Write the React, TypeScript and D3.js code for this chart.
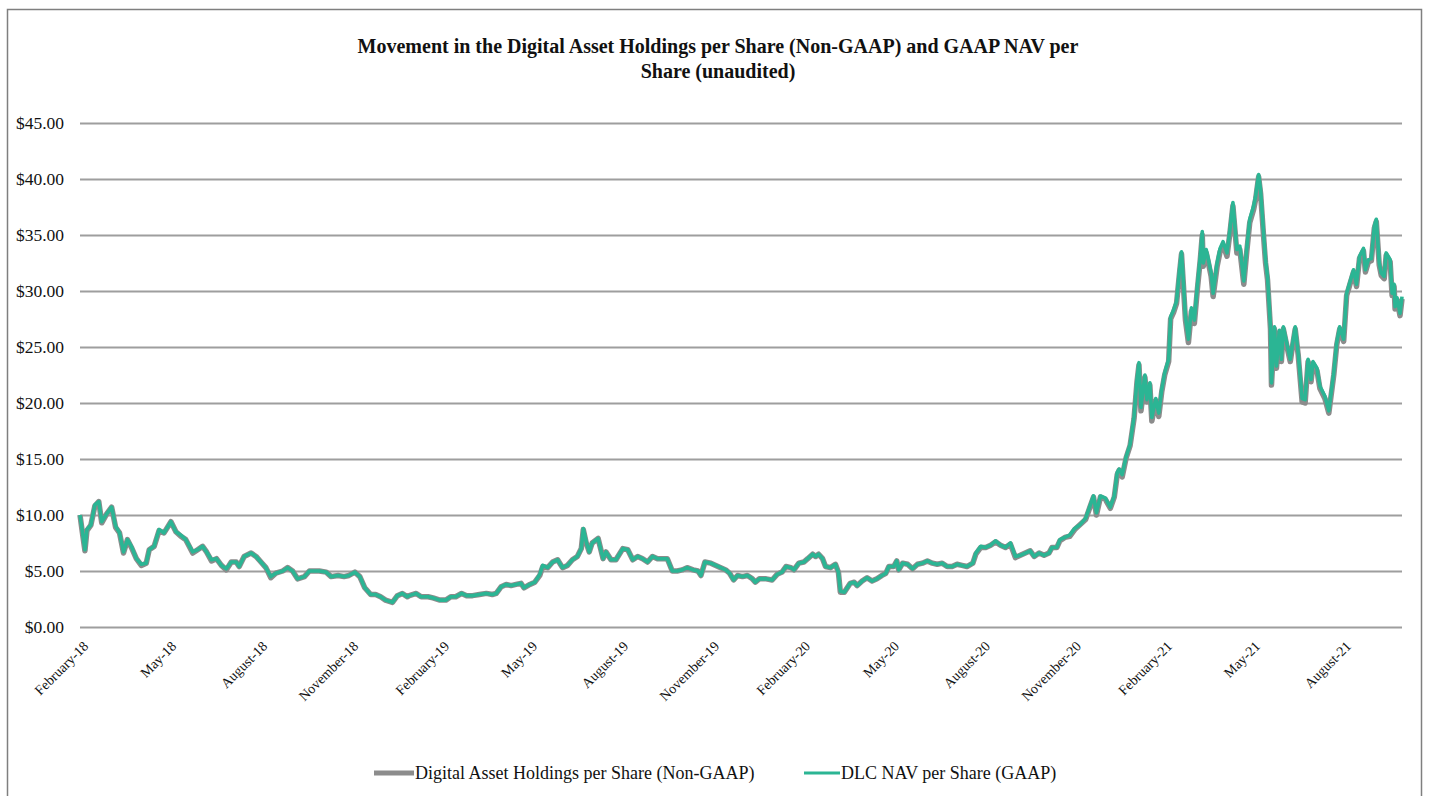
import React, { useEffect, useRef } from "react";
import * as d3 from "d3";

const titleLines = [
  "Movement in the Digital Asset Holdings per Share (Non-GAAP) and GAAP NAV per",
  "Share (unaudited)",
];
const seriesNames = ["Digital Asset Holdings per Share (Non-GAAP)", "DLC NAV per Share (GAAP)"];
const yTicks = [0, 5, 10, 15, 20, 25, 30, 35, 40, 45];
const xTickDates = [
  "2018-02-01", "2018-05-01", "2018-08-01", "2018-11-01",
  "2019-02-01", "2019-05-01", "2019-08-01", "2019-11-01",
  "2020-02-01", "2020-05-01", "2020-08-01", "2020-11-01",
  "2021-02-01", "2021-05-01", "2021-08-01",
];

// [date, DLC NAV per share (GAAP), digital asset holdings per share (non-GAAP)]
const rows2018: [string, number, number][] = [
  ["2018-02-01", 10.0, 10.0], ["2018-02-03", 8.8, 8.7], ["2018-02-06", 6.9, 6.8], ["2018-02-08", 8.7, 8.6],
  ["2018-02-12", 9.1, 9.1], ["2018-02-16", 10.9, 10.8], ["2018-02-20", 11.2, 11.2], ["2018-02-23", 9.4, 9.3],
  ["2018-02-28", 10.1, 10.1], ["2018-03-05", 10.7, 10.7], ["2018-03-09", 9.0, 8.9], ["2018-03-13", 8.4, 8.4],
  ["2018-03-17", 6.7, 6.6], ["2018-03-21", 7.8, 7.8], ["2018-03-25", 7.2, 7.1], ["2018-03-30", 6.1, 6.1],
  ["2018-04-04", 5.6, 5.5], ["2018-04-09", 5.7, 5.7], ["2018-04-12", 6.9, 6.9], ["2018-04-17", 7.2, 7.2],
  ["2018-04-22", 8.7, 8.6], ["2018-04-27", 8.4, 8.4], ["2018-05-04", 9.4, 9.4], ["2018-05-09", 8.5, 8.5],
  ["2018-05-14", 8.2, 8.1], ["2018-05-19", 7.8, 7.8], ["2018-05-26", 6.7, 6.6], ["2018-05-31", 6.9, 6.9],
  ["2018-06-05", 7.2, 7.2], ["2018-06-09", 6.7, 6.7], ["2018-06-14", 6.0, 5.9], ["2018-06-19", 6.1, 6.1],
  ["2018-06-24", 5.5, 5.5], ["2018-06-29", 5.2, 5.1], ["2018-07-04", 5.8, 5.8], ["2018-07-09", 5.8, 5.8],
  ["2018-07-12", 5.4, 5.4], ["2018-07-17", 6.3, 6.3], ["2018-07-24", 6.6, 6.6], ["2018-07-29", 6.3, 6.3],
  ["2018-08-03", 5.8, 5.8], ["2018-08-08", 5.3, 5.3], ["2018-08-13", 4.5, 4.4], ["2018-08-18", 4.8, 4.8],
  ["2018-08-25", 5.0, 5.0], ["2018-08-30", 5.3, 5.3], ["2018-09-04", 5.0, 5.0], ["2018-09-09", 4.3, 4.3],
  ["2018-09-16", 4.5, 4.5], ["2018-09-21", 5.0, 5.0], ["2018-09-26", 5.0, 5.0], ["2018-10-01", 5.0, 5.0],
  ["2018-10-08", 4.9, 4.9], ["2018-10-13", 4.5, 4.5], ["2018-10-20", 4.6, 4.6], ["2018-10-26", 4.5, 4.5],
  ["2018-10-31", 4.6, 4.6], ["2018-11-06", 4.9, 4.9], ["2018-11-11", 4.5, 4.5], ["2018-11-16", 3.5, 3.5],
  ["2018-11-22", 2.9, 2.9], ["2018-11-27", 2.9, 2.9], ["2018-12-02", 2.7, 2.7], ["2018-12-07", 2.4, 2.4],
  ["2018-12-14", 2.2, 2.2], ["2018-12-19", 2.8, 2.8], ["2018-12-24", 3.0, 3.0], ["2018-12-29", 2.7, 2.7],
  ["2018-12-31", 2.8, 2.8],
];

const rows2019: [string, number, number][] = [
  ["2019-01-07", 3.0, 3.0], ["2019-01-12", 2.7, 2.7], ["2019-01-19", 2.7, 2.7], ["2019-01-24", 2.6, 2.6],
  ["2019-01-31", 2.4, 2.4], ["2019-02-06", 2.4, 2.4], ["2019-02-11", 2.7, 2.7], ["2019-02-16", 2.7, 2.7],
  ["2019-02-22", 3.0, 3.0], ["2019-02-27", 2.8, 2.8], ["2019-03-05", 2.8, 2.8], ["2019-03-12", 2.9, 2.9],
  ["2019-03-19", 3.0, 3.0], ["2019-03-25", 2.9, 2.9], ["2019-03-29", 3.0, 3.0], ["2019-04-03", 3.6, 3.6],
  ["2019-04-08", 3.8, 3.8], ["2019-04-13", 3.7, 3.7], ["2019-04-18", 3.8, 3.8], ["2019-04-23", 3.9, 3.9],
  ["2019-04-26", 3.5, 3.5], ["2019-05-02", 3.8, 3.8], ["2019-05-07", 4.0, 4.0], ["2019-05-12", 4.7, 4.6],
  ["2019-05-15", 5.5, 5.4], ["2019-05-20", 5.3, 5.3], ["2019-05-25", 5.8, 5.8], ["2019-05-30", 6.0, 6.0],
  ["2019-06-04", 5.3, 5.3], ["2019-06-09", 5.5, 5.5], ["2019-06-14", 6.0, 6.0], ["2019-06-19", 6.3, 6.3],
  ["2019-06-23", 7.0, 7.0], ["2019-06-25", 8.8, 8.7], ["2019-06-28", 7.6, 7.5], ["2019-07-01", 6.7, 6.7],
  ["2019-07-04", 7.5, 7.5], ["2019-07-10", 7.9, 7.9], ["2019-07-15", 6.1, 6.1], ["2019-07-18", 6.7, 6.7],
  ["2019-07-23", 6.0, 6.0], ["2019-07-28", 6.0, 6.0], ["2019-08-04", 7.0, 7.0], ["2019-08-09", 6.9, 6.9],
  ["2019-08-14", 6.0, 6.0], ["2019-08-19", 6.3, 6.3], ["2019-08-24", 6.1, 6.1], ["2019-08-29", 5.8, 5.8],
  ["2019-09-03", 6.3, 6.3], ["2019-09-08", 6.1, 6.1], ["2019-09-13", 6.1, 6.1], ["2019-09-18", 6.1, 6.1],
  ["2019-09-23", 5.0, 5.0], ["2019-09-28", 5.0, 5.0], ["2019-10-03", 5.1, 5.1], ["2019-10-08", 5.3, 5.3],
  ["2019-10-14", 5.1, 5.1], ["2019-10-19", 5.0, 5.0], ["2019-10-22", 4.6, 4.6], ["2019-10-26", 5.8, 5.8],
  ["2019-11-01", 5.7, 5.7], ["2019-11-06", 5.5, 5.5], ["2019-11-11", 5.3, 5.3], ["2019-11-16", 5.1, 5.1],
  ["2019-11-20", 4.8, 4.8], ["2019-11-24", 4.2, 4.2], ["2019-11-28", 4.6, 4.6], ["2019-12-03", 4.5, 4.5],
  ["2019-12-08", 4.6, 4.6], ["2019-12-13", 4.3, 4.3], ["2019-12-16", 4.0, 4.0], ["2019-12-20", 4.3, 4.3],
  ["2019-12-27", 4.3, 4.3],
];

const rows2020: [string, number, number][] = [
  ["2020-01-02", 4.2, 4.2], ["2020-01-07", 4.7, 4.7], ["2020-01-12", 4.9, 4.9], ["2020-01-16", 5.4, 5.4],
  ["2020-01-21", 5.3, 5.3], ["2020-01-24", 5.1, 5.1], ["2020-01-29", 5.7, 5.7], ["2020-02-03", 5.8, 5.8],
  ["2020-02-07", 6.1, 6.1], ["2020-02-12", 6.5, 6.5], ["2020-02-15", 6.3, 6.3], ["2020-02-18", 6.5, 6.5],
  ["2020-02-22", 6.1, 6.1], ["2020-02-25", 5.4, 5.4], ["2020-03-01", 5.3, 5.3], ["2020-03-06", 5.6, 5.6],
  ["2020-03-09", 4.9, 4.9], ["2020-03-11", 3.2, 3.1], ["2020-03-15", 3.1, 3.1], ["2020-03-18", 3.5, 3.5],
  ["2020-03-21", 3.9, 3.9], ["2020-03-25", 4.0, 4.0], ["2020-03-28", 3.7, 3.7], ["2020-04-02", 4.1, 4.1],
  ["2020-04-07", 4.4, 4.4], ["2020-04-12", 4.1, 4.1], ["2020-04-17", 4.3, 4.3], ["2020-04-22", 4.6, 4.6],
  ["2020-04-26", 4.8, 4.8], ["2020-04-29", 5.4, 5.4], ["2020-05-04", 5.4, 5.4], ["2020-05-07", 5.9, 5.9],
  ["2020-05-09", 5.1, 5.1], ["2020-05-13", 5.7, 5.7], ["2020-05-18", 5.6, 5.6], ["2020-05-23", 5.2, 5.2],
  ["2020-05-28", 5.6, 5.6], ["2020-06-02", 5.7, 5.7], ["2020-06-07", 5.9, 5.9], ["2020-06-12", 5.7, 5.7],
  ["2020-06-17", 5.6, 5.6], ["2020-06-22", 5.7, 5.7], ["2020-06-27", 5.4, 5.4], ["2020-07-02", 5.4, 5.4],
  ["2020-07-07", 5.6, 5.6], ["2020-07-12", 5.5, 5.5], ["2020-07-17", 5.4, 5.4], ["2020-07-23", 5.7, 5.7],
  ["2020-07-26", 6.6, 6.5], ["2020-07-31", 7.2, 7.1], ["2020-08-05", 7.1, 7.1], ["2020-08-10", 7.3, 7.3],
  ["2020-08-15", 7.7, 7.6], ["2020-08-20", 7.3, 7.3], ["2020-08-25", 7.1, 7.1], ["2020-08-30", 7.5, 7.4],
  ["2020-09-04", 6.3, 6.2], ["2020-09-09", 6.4, 6.4], ["2020-09-14", 6.6, 6.6], ["2020-09-19", 6.8, 6.8],
  ["2020-09-23", 6.3, 6.3], ["2020-09-28", 6.6, 6.6], ["2020-10-03", 6.4, 6.4], ["2020-10-08", 6.6, 6.6],
  ["2020-10-11", 7.1, 7.1], ["2020-10-16", 7.1, 7.1], ["2020-10-19", 7.8, 7.7], ["2020-10-24", 8.0, 8.0],
  ["2020-10-29", 8.2, 8.1], ["2020-11-03", 8.8, 8.7], ["2020-11-08", 9.1, 9.1], ["2020-11-14", 9.7, 9.6],
  ["2020-11-18", 10.7, 10.6], ["2020-11-22", 11.7, 11.6], ["2020-11-25", 10.2, 10.0], ["2020-11-29", 11.7, 11.6],
  ["2020-12-04", 11.5, 11.4], ["2020-12-09", 10.7, 10.6], ["2020-12-13", 11.7, 11.6], ["2020-12-16", 13.8, 13.6],
  ["2020-12-18", 14.1, 14.0], ["2020-12-21", 13.6, 13.4], ["2020-12-25", 15.2, 15.1], ["2020-12-29", 16.3, 16.2],
];

const rows2021: [string, number, number][] = [
  ["2021-01-02", 18.8, 18.6], ["2021-01-05", 22.1, 21.9], ["2021-01-07", 23.6, 23.4], ["2021-01-09", 19.6, 19.3],
  ["2021-01-13", 22.5, 22.3], ["2021-01-15", 20.3, 20.1], ["2021-01-18", 21.8, 21.6], ["2021-01-20", 18.7, 18.4],
  ["2021-01-24", 20.4, 20.2], ["2021-01-27", 19.1, 18.8], ["2021-01-30", 21.2, 21.0], ["2021-02-02", 22.7, 22.5],
  ["2021-02-06", 23.9, 23.7], ["2021-02-08", 27.7, 27.5], ["2021-02-11", 28.3, 28.1], ["2021-02-14", 29.1, 28.9],
  ["2021-02-17", 31.9, 31.6], ["2021-02-19", 33.5, 33.3], ["2021-02-21", 30.7, 30.4], ["2021-02-23", 27.7, 27.4],
  ["2021-02-26", 25.7, 25.4], ["2021-03-01", 28.5, 28.2], ["2021-03-04", 27.4, 27.1], ["2021-03-07", 30.4, 30.1],
  ["2021-03-10", 33.1, 32.8], ["2021-03-12", 35.3, 35.0], ["2021-03-13", 32.5, 32.2], ["2021-03-16", 33.7, 33.4],
  ["2021-03-18", 32.9, 32.6], ["2021-03-21", 31.6, 31.3], ["2021-03-23", 29.8, 29.5], ["2021-03-27", 32.5, 32.2],
  ["2021-03-30", 33.8, 33.5], ["2021-04-02", 34.4, 34.1], ["2021-04-06", 33.4, 33.1], ["2021-04-09", 35.5, 35.2],
  ["2021-04-12", 37.9, 37.6], ["2021-04-16", 33.7, 33.4], ["2021-04-19", 34.0, 33.7], ["2021-04-23", 30.9, 30.6],
  ["2021-04-26", 33.8, 33.5], ["2021-04-29", 36.4, 36.1], ["2021-05-03", 37.6, 37.3], ["2021-05-05", 38.5, 38.2],
  ["2021-05-08", 40.4, 40.2], ["2021-05-10", 39.0, 38.7], ["2021-05-13", 35.2, 34.9], ["2021-05-15", 32.8, 32.5],
  ["2021-05-17", 31.3, 31.0], ["2021-05-20", 26.8, 26.6], ["2021-05-21", 21.8, 21.6], ["2021-05-24", 26.8, 26.6],
  ["2021-05-26", 23.3, 23.1], ["2021-05-29", 26.5, 26.3], ["2021-05-31", 23.9, 23.7], ["2021-06-02", 26.8, 26.6],
  ["2021-06-06", 25.1, 24.9], ["2021-06-09", 23.9, 23.7], ["2021-06-11", 25.1, 24.9], ["2021-06-14", 26.8, 26.6],
  ["2021-06-17", 24.5, 24.3], ["2021-06-21", 20.4, 20.1], ["2021-06-24", 20.3, 20.0], ["2021-06-27", 23.9, 23.7],
  ["2021-06-30", 22.1, 21.9], ["2021-07-02", 23.7, 23.5], ["2021-07-06", 23.1, 22.9], ["2021-07-09", 21.5, 21.3],
  ["2021-07-14", 20.6, 20.4], ["2021-07-18", 19.3, 19.1], ["2021-07-23", 22.7, 22.5], ["2021-07-26", 25.4, 25.2],
  ["2021-07-29", 26.8, 26.6], ["2021-08-02", 25.7, 25.5], ["2021-08-05", 29.8, 29.6], ["2021-08-08", 30.7, 30.5],
  ["2021-08-12", 31.9, 31.7], ["2021-08-15", 30.6, 30.4], ["2021-08-18", 33.1, 32.9], ["2021-08-22", 33.8, 33.6],
  ["2021-08-24", 31.9, 31.7], ["2021-08-27", 32.8, 32.6], ["2021-08-30", 32.9, 32.7], ["2021-09-02", 35.8, 35.6],
  ["2021-09-04", 36.4, 36.2], ["2021-09-07", 32.5, 32.3], ["2021-09-09", 31.6, 31.4], ["2021-09-12", 31.3, 31.1],
  ["2021-09-14", 33.4, 33.2], ["2021-09-18", 32.8, 32.6], ["2021-09-20", 29.8, 29.6], ["2021-09-22", 30.6, 30.4],
  ["2021-09-23", 28.6, 28.4], ["2021-09-25", 29.4, 29.2], ["2021-09-28", 28.0, 27.8], ["2021-09-30", 29.5, 29.3],
];

const navColor = "#2bb594";
const holdingsColor = "#8c8c8c";
const gridColor = "#9e9e9e";
const font = "'Liberation Serif', 'Times New Roman', serif";

export default function App() {
  const ref = useRef<SVGSVGElement>(null);

  useEffect(() => {
    const width = 1429;
    const height = 796;
    const margin = { top: 123, right: 27, bottom: 169, left: 80 };

    const parse = d3.timeParse("%Y-%m-%d");
    const data = [...rows2018, ...rows2019, ...rows2020, ...rows2021].map(([d, nav, hold]) => ({
      date: parse(d) as Date,
      nav,
      hold,
    }));

    const svg = d3.select(ref.current).attr("width", width).attr("height", height);
    svg.selectAll("*").remove();

    svg
      .append("rect")
      .attr("x", 7.5)
      .attr("y", 9.5)
      .attr("width", 1414)
      .attr("height", 800)
      .attr("fill", "white")
      .attr("stroke", "#7f7f7f")
      .attr("stroke-width", 1.5);

    const x = d3
      .scaleTime()
      .domain([data[0].date, data[data.length - 1].date])
      .range([margin.left, width - margin.right]);
    const y = d3
      .scaleLinear()
      .domain([0, 45])
      .range([height - margin.bottom, margin.top]);

    // title
    svg
      .append("text")
      .attr("text-anchor", "middle")
      .attr("font-family", font)
      .attr("font-size", 20)
      .attr("font-weight", "bold")
      .attr("fill", "#111")
      .selectAll("tspan")
      .data(titleLines)
      .join("tspan")
      .attr("x", 718)
      .attr("y", (_, i) => 53 + i * 25)
      .text((d) => d);

    // y axis with gridlines
    const yAxis = svg
      .append("g")
      .attr("transform", `translate(${margin.left},0)`)
      .call(
        d3
          .axisLeft(y)
          .tickValues(yTicks)
          .tickSize(-(width - margin.left - margin.right))
          .tickPadding(16)
          .tickFormat((d) => `$${(+d).toFixed(2)}`)
      );
    yAxis.select(".domain").remove();
    yAxis.selectAll(".tick line").attr("stroke", gridColor).attr("stroke-width", 1.8);
    yAxis
      .selectAll(".tick text")
      .attr("font-family", font)
      .attr("font-size", 17.5)
      .attr("fill", "#111");

    // x axis labels
    const xAxis = svg
      .append("g")
      .attr("transform", `translate(0,${height - margin.bottom})`)
      .call(
        d3
          .axisBottom(x)
          .tickValues(xTickDates.map((d) => parse(d) as Date))
          .tickSize(0)
          .tickFormat((d) => d3.timeFormat("%B-%y")(d as Date))
      );
    xAxis.select(".domain").remove();
    xAxis
      .selectAll(".tick text")
      .attr("font-family", font)
      .attr("font-size", 14)
      .attr("fill", "#111")
      .attr("text-anchor", "end")
      .attr("x", -8)
      .attr("y", 15.5)
      .attr("dy", "0.35em")
      .attr("transform", "rotate(-45)");

    const line = (key: "nav" | "hold") =>
      d3
        .line<{ date: Date; nav: number; hold: number }>()
        .x((d) => x(d.date))
        .y((d) => y(d[key]));

    svg
      .append("path")
      .datum(data)
      .attr("fill", "none")
      .attr("stroke", holdingsColor)
      .attr("stroke-width", 5.5)
      .attr("stroke-linejoin", "round")
      .attr("d", line("hold"));

    svg
      .append("path")
      .datum(data)
      .attr("fill", "none")
      .attr("stroke", navColor)
      .attr("stroke-width", 3.6)
      .attr("stroke-linejoin", "round")
      .attr("d", line("nav"));

    // legend
    const legend = [
      { name: seriesNames[0], color: holdingsColor, w: 5, x0: 374, x1: 414 },
      { name: seriesNames[1], color: navColor, w: 3, x0: 804, x1: 840 },
    ];
    const lg = svg.append("g").selectAll("g").data(legend).join("g");
    lg.append("line")
      .attr("x1", (d) => d.x0)
      .attr("x2", (d) => d.x1)
      .attr("y1", 773)
      .attr("y2", 773)
      .attr("stroke", (d) => d.color)
      .attr("stroke-width", (d) => d.w);
    lg.append("text")
      .attr("x", (d) => d.x1 + 1)
      .attr("y", 779)
      .attr("font-family", font)
      .attr("font-size", 18)
      .attr("fill", "#111")
      .text((d) => d.name);
  }, []);

  return (
    <div style={{ position: "absolute", left: 0, top: 0 }}>
      <svg ref={ref} />
    </div>
  );
}
